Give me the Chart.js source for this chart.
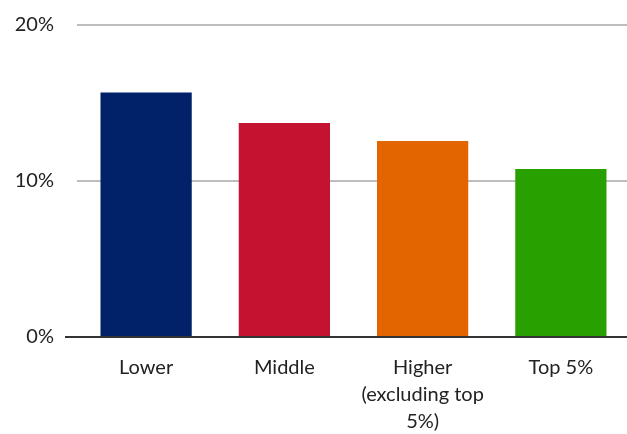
<!DOCTYPE html>
<html>
<head>
<meta charset="utf-8">
<script src="https://cdn.jsdelivr.net/npm/chart.js@4"></script>
<style>
  html, body { margin: 0; padding: 0; background: #fff; overflow: hidden; }
  #wrap { width: 627px; height: 434px; overflow: hidden; }
</style>
</head>
<body>
<div id="wrap"><canvas id="chartContainer" width="630" height="434"></canvas></div>
<script>
// Data
const categories = ['Lower', 'Middle', ['Higher', '(excluding top', '5%)'], 'Top 5%']
const shares = [15.65, 13.7, 12.55, 10.75]
const barColors = ['#012169', '#C41230', '#E36500', '#28A000']
const yTicks = [0, 10, 20]

const labelFont = { family: 'Lato', size: 20, weight: 400, lineHeight: 1.35 }

var ctx = document.getElementById('chartContainer').getContext('2d');
var myChart = new Chart(ctx, {
    type: 'bar',
    data: {
        labels: categories,
        datasets: [{
            data: shares,
            backgroundColor: barColors,
            borderWidth: 0,
            categoryPercentage: 1,
            barPercentage: 0.66
        }]
    },
    options: {
        responsive: false,
        animation: false,
        layout: { padding: { top: 23, right: 0, left: 0, bottom: 0 } },
        plugins: { legend: { display: false }, tooltip: { enabled: false } },
        scales: {
            x: {
                grid: { display: false, drawTicks: false },
                border: { display: false },
                ticks: { color: '#222', font: labelFont, padding: 17, maxRotation: 0, autoSkip: false },
                afterFit: function(scale) { scale.height = 97 }
            },
            y: {
                min: 0,
                max: 20,
                afterBuildTicks: function(scale) { scale.ticks = yTicks.map(v => ({ value: v })) },
                grid: {
                    color: c => c.tick && c.tick.value === 0 ? '#333' : '#bdbdbd',
                    lineWidth: 2,
                    tickLength: 12,
                    tickColor: c => c.tick && c.tick.value === 0 ? '#333' : 'rgba(0,0,0,0)',
                    tickWidth: 2
                },
                border: { display: false },
                ticks: {
                    color: '#222',
                    font: labelFont,
                    padding: 11,
                    callback: v => v + '%'
                },
                afterFit: function(scale) { scale.width = 77 }
            }
        }
    }
});
</script>
</body>
</html>
